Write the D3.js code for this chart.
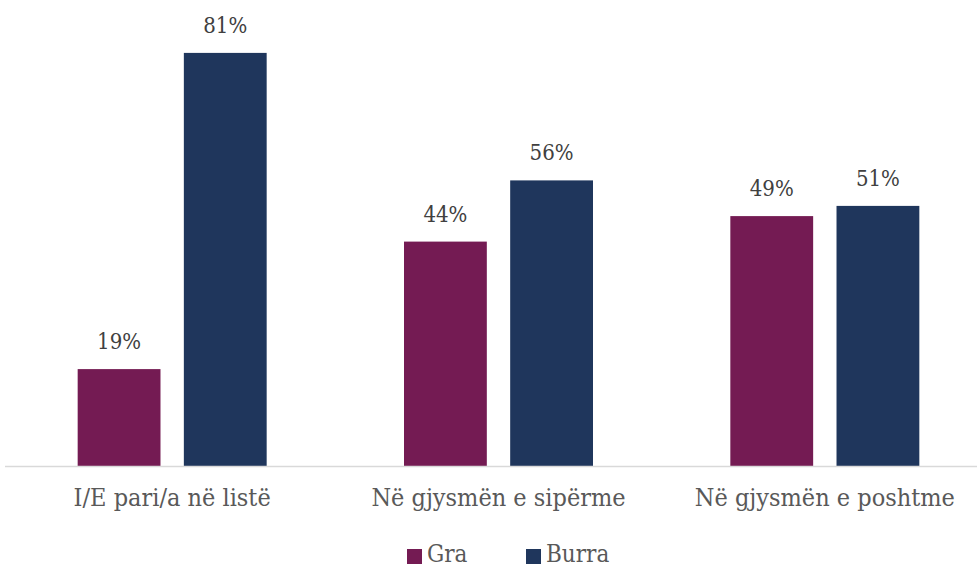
<!DOCTYPE html>
<html>
<head>
<meta charset="utf-8">
<script src="https://cdn.jsdelivr.net/npm/d3@7"></script>
<style>
  html, body { margin: 0; padding: 0; background: #fff; }
  svg { display: block; }
</style>
</head>
<body>
<svg id="chart" width="977" height="568"></svg>
<script>
// Categories, series and values
const categories = ["I/E pari/a në listë", "Në gjysmën e sipërme", "Në gjysmën e poshtme"];
const seriesNames = ["Gra", "Burra"];
const graValues = [19, 44, 49];
const burraValues = [81, 56, 51];
const seriesColors = ["#741B53", "#1F365C"];

const rows = categories.map((c, i) => ({ category: c, values: [graValues[i], burraValues[i]] }));

const svg = d3.select("#chart");
const fontFamily = "'DejaVu Serif Condensed', 'DejaVu Serif', serif";

const x0 = d3.scaleBand().domain(categories).range([9, 988]).paddingInner(0).paddingOuter(0);
const x1 = d3.scaleBand().domain(seriesNames).range([0, 189]).paddingInner(0.22);
const groupOffset = (x0.bandwidth() - 189) / 2;
const y = d3.scaleLinear().domain([0, 90]).range([466, 466 - 90 * 5.1]);

// Bars
const groups = svg.append("g").selectAll("g")
  .data(rows).join("g")
  .attr("transform", d => `translate(${x0(d.category) + groupOffset},0)`);

groups.selectAll("rect")
  .data(d => d.values.map((v, i) => ({ key: seriesNames[i], value: v, i })))
  .join("rect")
  .attr("x", d => x1(d.key))
  .attr("y", d => y(d.value))
  .attr("width", x1.bandwidth())
  .attr("height", d => y(0) - y(d.value))
  .attr("fill", d => seriesColors[d.i]);

// Value labels
groups.selectAll("text")
  .data(d => d.values.map((v, i) => ({ key: seriesNames[i], value: v })))
  .join("text")
  .attr("x", d => x1(d.key) + x1.bandwidth() / 2)
  .attr("y", d => y(d.value) - 20)
  .attr("text-anchor", "middle")
  .attr("font-family", fontFamily)
  .attr("font-stretch", "condensed")
  .attr("font-size", 22)
  .attr("fill", "#404040")
  .text(d => d.value + "%");

// Category axis
const axis = svg.append("g")
  .attr("transform", `translate(0,${y(0)})`)
  .call(d3.axisBottom(x0).tickSize(0).tickPadding(22));
axis.select(".domain").attr("stroke", "#d9d9d9").attr("stroke-width", 1.5)
  .attr("d", "M5,0.5H977");
axis.selectAll(".tick text")
  .attr("font-family", fontFamily)
  .attr("font-stretch", "condensed")
  .attr("font-size", 25)
  .attr("fill", "#595959");

// Legend
const legendItems = [
  { name: "Gra", color: seriesColors[0], x: 407 },
  { name: "Burra", color: seriesColors[1], x: 526 }
];
const legend = svg.append("g");
legendItems.forEach(item => {
  legend.append("rect")
    .attr("x", item.x).attr("y", 549)
    .attr("width", 15).attr("height", 15)
    .attr("fill", item.color);
  legend.append("text")
    .attr("x", item.x + 20).attr("y", 562)
    .attr("font-family", fontFamily)
    .attr("font-stretch", "condensed")
    .attr("font-size", 24)
    .attr("fill", "#595959")
    .text(item.name);
});
</script>
</body>
</html>
